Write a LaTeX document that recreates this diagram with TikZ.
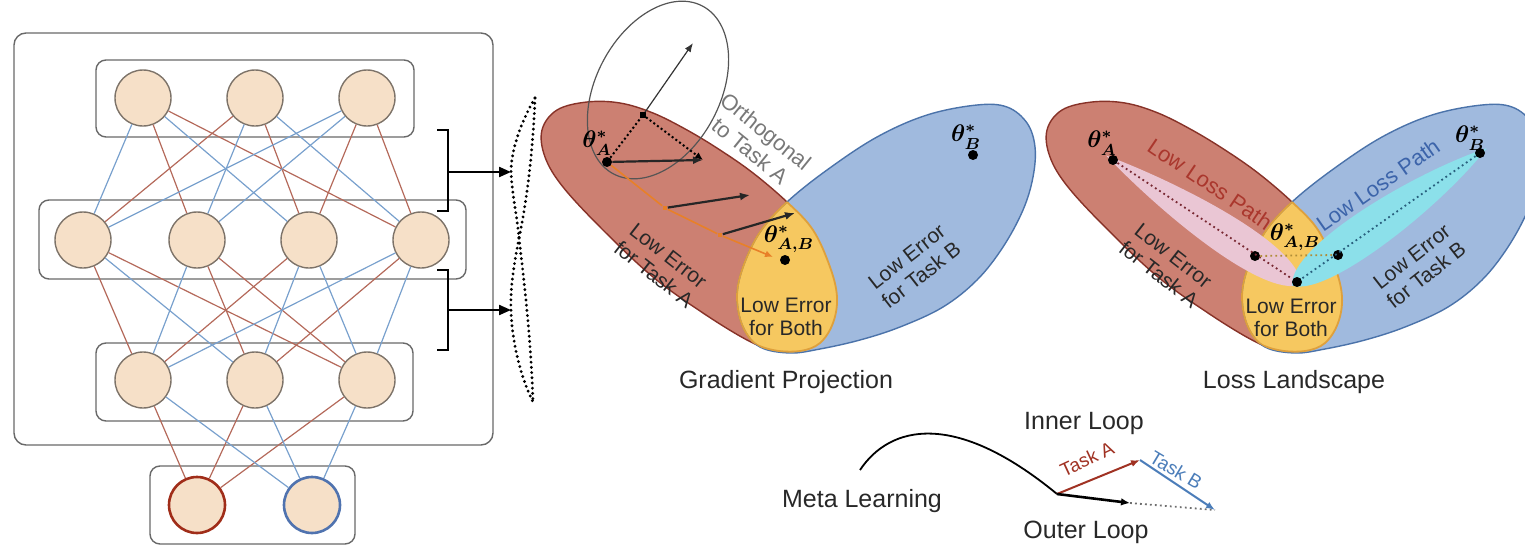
\documentclass[tikz,border=0pt]{standalone}
\usepackage{fontspec}
\setmainfont{Liberation Sans}
\usetikzlibrary{arrows.meta}

\definecolor{nodefill}{RGB}{246,224,200}
\definecolor{nodeline}{RGB}{125,115,105}
\definecolor{boxline}{RGB}{105,105,105}
\definecolor{netred}{RGB}{180,105,90}
\definecolor{netblue}{RGB}{120,160,205}
\definecolor{outred}{RGB}{160,45,25}
\definecolor{outblue}{RGB}{80,115,175}
\definecolor{redfill}{RGB}{204,128,114}
\definecolor{redline}{RGB}{135,50,40}
\definecolor{bluefill}{RGB}{160,186,222}
\definecolor{blueline}{RGB}{75,115,170}
\definecolor{yellowfill}{RGB}{246,200,96}
\definecolor{yellowline}{RGB}{222,160,60}
\definecolor{pathorange}{RGB}{232,128,40}
\definecolor{pinkband}{RGB}{234,198,212}
\definecolor{cyanband}{RGB}{140,224,234}
\definecolor{pathred}{RGB}{120,40,50}
\definecolor{pathteal}{RGB}{40,95,125}
\definecolor{pathgold}{RGB}{175,140,55}
\definecolor{orthgray}{RGB}{85,85,85}
\definecolor{textgray}{RGB}{120,120,120}
\definecolor{textdark}{RGB}{40,40,40}
\definecolor{lossred}{RGB}{170,55,45}
\definecolor{lossblue}{RGB}{60,100,170}
\definecolor{taskred}{RGB}{160,50,35}
\definecolor{taskblue}{RGB}{75,125,185}
\definecolor{loopgray}{RGB}{110,110,110}

% low-error regions of the two tasks (pixel units, y downwards)
\def\RedShape{plot[smooth cycle,tension=0.6] coordinates {(542,130) (557,110) (587,102) (620,103) (653,113) (687,130) (720,150) (753,173) (787,202) (813,230) (830,267) (837,297) (833,323) (820,343) (800,351) (773,350) (747,340) (703,313) (653,277) (603,230) (563,187) (545,157)}}
\def\BlueShape{plot[smooth cycle,tension=0.6] coordinates {(787,202) (827,170) (877,137) (927,115) (977,105) (1007,107) (1027,123) (1035,147) (1033,177) (1023,210) (1003,247) (977,280) (943,307) (900,327) (860,340) (820,349) (790,353) (760,347) (743,327) (737,297) (743,267) (760,232)}}

\newcommand\errorregions{%
  \fill[redfill] \RedShape;
  \draw[redline, line width=0.7pt] \RedShape;
  \fill[bluefill] \BlueShape;
  \begin{scope}\clip \RedShape; \fill[yellowfill] \BlueShape; \end{scope}
  \draw[blueline, line width=0.7pt] \BlueShape;
  \begin{scope}\clip \BlueShape; \draw[yellowline, line width=0.9pt] \RedShape; \end{scope}
  \begin{scope}\clip \RedShape; \draw[yellowline, line width=0.9pt] \BlueShape; \end{scope}
}

\begin{document}
\begin{tikzpicture}[x=0.5pt,y=-0.5pt,
  neuron/.style={circle, draw=nodeline, fill=nodefill, line width=0.7pt, minimum size=28pt, inner sep=0pt},
  layerbox/.style={draw=boxline, line width=0.7pt, rounded corners=5pt},
  nred/.style={draw=netred, line width=0.6pt},
  nblue/.style={draw=netblue, line width=0.6pt},
  bracket/.style={draw=black, line width=1.4pt},
  hookarrow/.style={-{Triangle[length=6pt,width=5pt]}, line width=1.1pt},
  lensdot/.style={line width=1.6pt, line cap=round, dash pattern=on 0pt off 2.6pt},
  pt/.style={circle, fill=black, inner sep=0pt, minimum size=5pt},
  sq/.style={fill=black, inner sep=0pt, minimum size=2.6pt},
  osq/.style={fill=pathorange, inner sep=0pt, minimum size=2.4pt},
  gradarrow/.style={draw=black!85, line width=1.1pt, -{Latex[length=5pt,width=4pt]}},
  thinarrow/.style={draw=black!80, line width=0.6pt, -{Latex[length=4.5pt,width=3.5pt]}},
  projdot/.style={draw=black, line width=1pt, dash pattern=on 1pt off 1.3pt},
  orangepath/.style={draw=pathorange, line width=0.8pt},
  ldot/.style={line width=0.9pt, dash pattern=on 0.9pt off 1.6pt},
  theta/.style={font=\boldmath\fontsize{12}{14}\selectfont, inner sep=0pt},
  lbl/.style={font=\fontsize{10.5}{11.8}\selectfont, text=textdark, align=center, inner sep=0pt},
  title/.style={font=\fontsize{12.5}{14}\selectfont, text=textdark, inner sep=0pt},
  tasklbl/.style={font=\fontsize{9.5}{11}\selectfont, inner sep=0pt}
]
\useasboundingbox (0,0) rectangle (1525,546);

%% ---------------- network ----------------
\draw[layerbox, rounded corners=6pt] (14,33) rectangle (493,445);
\draw[layerbox] (96,60) rectangle (414,137);
\draw[layerbox] (39,200) rectangle (466,279);
\draw[layerbox] (96,343) rectangle (413,421);
\draw[layerbox] (150,466) rectangle (355,544);

\node[neuron] (t1) at (143,98) {};
\node[neuron] (t2) at (255,98) {};
\node[neuron] (t3) at (367,98) {};
\node[neuron] (m1) at (83,240) {};
\node[neuron] (m2) at (197,240) {};
\node[neuron] (m3) at (309,240) {};
\node[neuron] (m4) at (421,240) {};
\node[neuron] (b1) at (143,380) {};
\node[neuron] (b2) at (255,380) {};
\node[neuron] (b3) at (367,380) {};
\node[neuron, draw=outred, line width=1.3pt] (o1) at (197,505) {};
\node[neuron, draw=outblue, line width=1.3pt] (o2) at (312,505) {};

\foreach \a/\b in {t1/m2, t1/m4, t2/m1, t2/m3, t3/m3, t3/m4,
                   m1/b1, m1/b3, m2/b2, m2/b3, m3/b1, m4/b2,
                   b1/o1, b2/o1, b3/o1}
  \draw[nred] (\a) -- (\b);
\foreach \a/\b in {t1/m1, t1/m3, t2/m2, t2/m4, t3/m1, t3/m2,
                   m1/b2, m2/b1, m3/b2, m3/b3, m4/b1, m4/b3,
                   b1/o2, b2/o2, b3/o2}
  \draw[nblue] (\a) -- (\b);

%% ---------------- brackets and zoom lens ----------------
\coordinate (br1a) at (437,130); \coordinate (br1b) at (448,130);
\coordinate (br1c) at (448,211); \coordinate (br1d) at (437,211);
\coordinate (br1m) at (448,172);
\coordinate (br2a) at (437,270); \coordinate (br2b) at (448,270);
\coordinate (br2c) at (448,350); \coordinate (br2d) at (437,350);
\coordinate (br2m) at (448,310);
\coordinate (tip1) at (511,172);
\coordinate (tip2) at (511,310);
\coordinate (lensTop) at (535,98);
\coordinate (lensMid) at (519,238);
\coordinate (lensBot) at (533,402);

\draw[bracket] (br1a) -- (br1b) -- (br1c) -- (br1d);
\draw[bracket] (br2a) -- (br2b) -- (br2c) -- (br2d);
\draw[hookarrow] (br1m) -- (tip1);
\draw[hookarrow] (br2m) -- (tip2);

\draw[lensdot] (lensTop) .. controls (521,122) and (511,150) .. (tip1) .. controls (512,195) and (517,215) .. (lensMid);
\draw[lensdot] (lensTop) .. controls (533,150) and (527,200) .. (lensMid);
\draw[lensdot] (lensMid) .. controls (515,260) and (510,285) .. (tip2) .. controls (512,345) and (522,380) .. (lensBot);
\draw[lensdot] (lensMid) .. controls (524,280) and (531,340) .. (lensBot);

%% ---------------- gradient projection ----------------
\errorregions
\draw[orthgray, line width=0.6pt, rotate around={62:(658,90)}] (658,90) ellipse [x radius=95, y radius=62];

\node[pt] (gA) at (607,162) {};
\node[pt] (gAB) at (785,260) {};
\node[pt] (gB) at (973,155) {};
\node[sq] (gP) at (643,115) {};
\node[osq] (gd1) at (665,208) {};
\node[osq] (gd2) at (720,235) {};
\coordinate (gQ) at (693,43);
\coordinate (gR) at (703,160);
\coordinate (gE) at (773,257);
\coordinate (gT1) at (750,195);
\coordinate (gT2) at (795,213);

\draw[projdot] (gA) -- (gP);
\draw[projdot, -{Latex[length=4pt,width=3.5pt]}] (gP) -- (gR);
\draw[thinarrow] (gP) -- (gQ);
\draw[gradarrow] (gA) -- (gR);
\draw[orangepath] (gA) -- (gd1) -- (gd2);
\draw[orangepath, -{Latex[length=4pt,width=3.5pt]}] (gd2) -- (gE);
\draw[gradarrow] (gd1) -- (gT1);
\draw[gradarrow] (gd2) -- (gT2);

\node[theta] (gAl) at (597,143) {$\theta^*_A$};
\node[theta] (gABl) at (789,239) {$\theta^*_{A,B}$};
\node[theta] (gBl) at (966,137) {$\theta^*_B$};

\node[lbl, text=textgray, font=\fontsize{11}{12.5}\selectfont, rotate=-39] (orth) at (758,141) {Orthogonal\\to Task A};
\node[lbl, rotate=-38] (gLA) at (661,265) {Low Error\\for Task A};
\node[lbl] (gLAB) at (786,317) {Low Error\\for Both};
\node[lbl, rotate=38] (gLB) at (914,266) {Low Error\\for Task B};
\node[title] (gTitle) at (786,382) {Gradient Projection};

%% ---------------- loss landscape ----------------
\begin{scope}[shift={(505,0)}]
  \errorregions
\end{scope}
% low-loss bands
\begin{scope}[shift={(1113,160)}, rotate=-33.5]
  \fill[pinkband] (-8,0) .. controls (60,-16) and (200,-34) .. (226,0)
                         .. controls (200,34) and (60,16) .. (-8,0);
\end{scope}
\begin{scope}[shift={(1297,282)}, rotate=35.2]
  \fill[cyanband] (-6,0) .. controls (15,-34) and (160,-22) .. (232,0)
                         .. controls (160,22) and (15,30) .. (-6,0);
\end{scope}

\node[pt] (lA) at (1113,160) {};
\node[pt] (lAB) at (1297,282) {};
\node[pt] (lB) at (1480,153) {};
\node[pt] (lM1) at (1255,256) {};
\node[pt] (lM2) at (1338,255) {};

\draw[ldot, pathred] (lA) -- (lAB);
\draw[ldot, pathteal] (lB) -- (lAB);
\draw[ldot, pathgold] (lM1) -- (lM2);

\node[theta] (lAl) at (1102,143) {$\theta^*_A$};
\node[theta] (lABl) at (1295,237) {$\theta^*_{A,B}$};
\node[theta] (lBl) at (1470,138) {$\theta^*_B$};

\node[lbl, text=lossred, font=\fontsize{11}{12.5}\selectfont, rotate=-34] (lLPA) at (1210,184) {Low Loss Path};
\node[lbl, text=lossblue, font=\fontsize{11}{12.5}\selectfont, rotate=35] (lLPB) at (1378,185) {Low Loss Path};
\node[lbl, rotate=-38] (lLA) at (1166,265) {Low Error\\for Task A};
\node[lbl] (lLAB) at (1291,318) {Low Error\\for Both};
\node[lbl, rotate=38] (lLB) at (1419,266) {Low Error\\for Task B};
\node[title] (lTitle) at (1294,382) {Loss Landscape};

%% ---------------- meta learning ----------------
\coordinate (mArc) at (860,470);
\coordinate (m0) at (1057,494);
\coordinate (mA) at (1140,460);
\coordinate (mB) at (1215,510);
\coordinate (mO) at (1130,503);

\draw[line width=0.9pt] (mArc) .. controls (890,425) and (955,410) .. (m0);
\draw[loopgray, ldot] (mO) -- (mB);
\draw[taskred, line width=1pt, -{Latex[length=4.5pt,width=3.5pt]}] (m0) -- (mA);
\draw[taskblue, line width=1pt, -{Latex[length=4.5pt,width=3.5pt]}] (mA) -- (mB);
\draw[black, line width=1.3pt, -{Latex[length=4.5pt,width=3.8pt]}] (m0) -- (mO);

\node[title] (mInner) at (1084,423) {Inner Loop};
\node[title] (mOuter) at (1086,532) {Outer Loop};
\node[title] (mMeta) at (862,501) {Meta Learning};
\node[tasklbl, text=taskred, rotate=25] (mTA) at (1087,459) {Task A};
\node[tasklbl, text=taskblue, rotate=-31] (mTB) at (1176,470) {Task B};
\end{tikzpicture}
\end{document}
